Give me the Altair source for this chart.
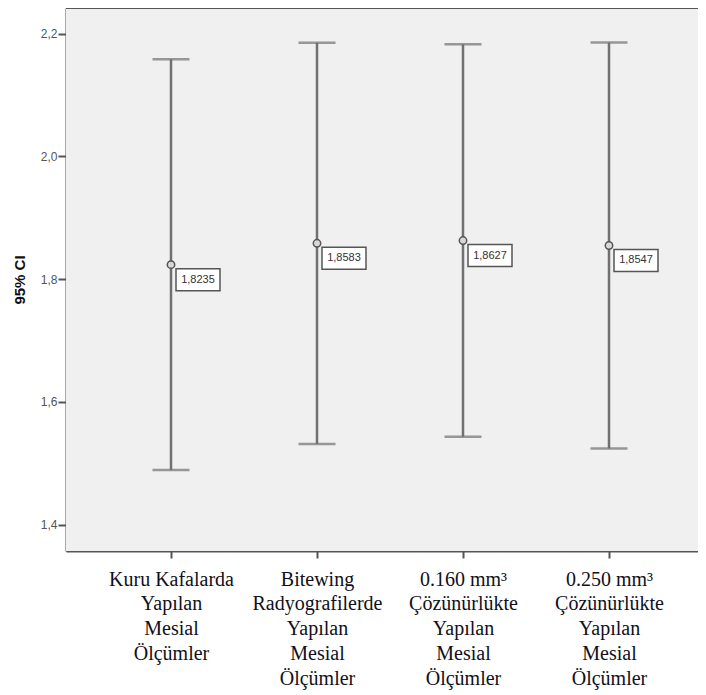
import altair as alt
import pandas as pd

# ---- data ----
positions = [1, 2, 3, 4]
label_lines = [
    ["Kuru Kafalarda", "Yapılan", "Mesial", "Ölçümler"],
    ["Bitewing", "Radyografilerde", "Yapılan", "Mesial", "Ölçümler"],
    ["0.160 mm³", "Çözünürlükte", "Yapılan", "Mesial", "Ölçümler"],
    ["0.250 mm³", "Çözünürlükte", "Yapılan", "Mesial", "Ölçümler"],
]
means = [1.8235, 1.8583, 1.8627, 1.8547]
lowers = [1.4890, 1.5315, 1.5430, 1.5240]
uppers = [2.1580, 2.1851, 2.1824, 2.1854]
y_ticks = [1.4, 1.6, 1.8, 2.0, 2.2]

df = pd.DataFrame({"pos": positions, "mean": means, "lower": lowers, "upper": uppers})

W, H = 632, 543
x_domain = [0.2808, 4.6096]
y_domain = [1.357, 2.2416]

# multi-line labels through labelExpr
parts = []
for p, lines in zip(positions, label_lines):
    arr = "[" + ",".join("'" + l + "'" for l in lines) + "]"
    parts.append(f"datum.value == {p} ? {arr}")
label_expr = " : ".join(parts) + " : ''"

line_color = "#707070"
frame_color = "#555555"

x = alt.X("pos:Q", scale=alt.Scale(domain=x_domain, nice=False, zero=False),
          axis=alt.Axis(values=positions, labelExpr=label_expr, title=None, grid=False,
                        tickSize=7, tickWidth=2, tickColor=frame_color,
                        domainColor=frame_color, domainWidth=2,
                        labelFont="Liberation Serif", labelFontSize=20, labelColor="#101020",
                        labelLineHeight=24.8, labelBaseline="top", labelPadding=11,
                        labelOverlap=False, labelFlush=False, labelBound=False,
                        labelAlign="center"))
y_scale = alt.Scale(domain=y_domain, nice=False, zero=False)
y = alt.Y("lower:Q", scale=y_scale,
          axis=alt.Axis(values=y_ticks, labelExpr="replace(format(datum.value, '.1f'), '.', ',')",
                        title="95% CI", titleFont="Arial", titleFontSize=15, titleFontWeight="bold",
                        titleColor="#111111", titlePadding=13,
                        grid=False, tickSize=8, tickWidth=2, tickColor=frame_color,
                        domainColor=frame_color, domainWidth=2,
                        labelFont="Arial", labelFontSize=12, labelColor="#555555", labelPadding=1))

base = alt.Chart(df)

bg = base.mark_rect(fill="#f0f0f0").encode(
    x=alt.value(0), x2=alt.value(W), y=alt.value(0), y2=alt.value(H))
rule = base.mark_rule(color=line_color, strokeWidth=2.5).encode(x=x, y=y, y2="upper:Q")
cap_lo = base.mark_tick(color=line_color, orient="horizontal", size=37, thickness=2.5).encode(
    x="pos:Q", y=alt.Y("lower:Q"))
cap_hi = base.mark_tick(color=line_color, orient="horizontal", size=37, thickness=2.5).encode(
    x="pos:Q", y=alt.Y("upper:Q"))
pt = base.mark_point(shape="circle", size=55, filled=False, stroke="#555555",
                     fill="#d8d8d8", fillOpacity=1, strokeWidth=1.5, opacity=1).encode(
    x="pos:Q", y=alt.Y("mean:Q"))
box = base.mark_rect(fill="white", stroke="#555555", strokeWidth=1.5,
                     xOffset=5, x2Offset=49, yOffset=4, y2Offset=26).encode(
    x="pos:Q", x2="pos:Q", y=alt.Y("mean:Q"), y2="mean:Q")
txt = base.transform_calculate(
    lab="replace(format(datum.mean, '.4f'), '.', ',')"
).mark_text(font="Arial", fontSize=11, color="#333333", dx=27, dy=15, align="center",
            baseline="middle").encode(x="pos:Q", y=alt.Y("mean:Q"), text="lab:N")
top = base.mark_rule(color=frame_color, strokeWidth=2).encode(
    x=alt.value(0), x2=alt.value(W), y=alt.value(0))

chart = alt.layer(bg, rule, cap_lo, cap_hi, pt, box, txt, top).properties(
    width=W, height=H,
    autosize=alt.AutoSizeParams(type="none"),
    padding={"left": 58, "top": 0, "right": 0, "bottom": 140},
).configure_view(stroke="transparent").configure(background="white")

chart.save("out.html", embed_options={"renderer": "svg", "actions": False})
